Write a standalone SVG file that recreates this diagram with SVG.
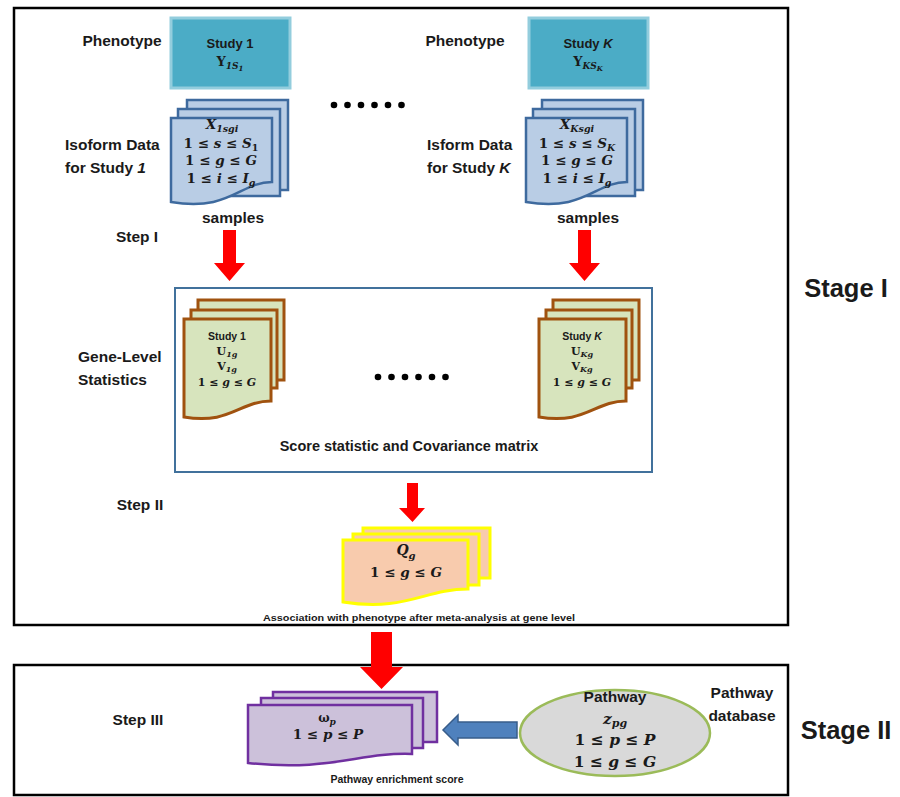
<svg xmlns="http://www.w3.org/2000/svg" width="900" height="797" viewBox="0 0 900 797">
<style>
  .lbl { font-family: "Liberation Sans", Arial, sans-serif; font-weight: bold; fill: #1a1a1a; }
  .m { font-family: "DejaVu Serif", "Liberation Serif", serif; font-weight: bold; fill: #1a1a1a; }
  .i { font-style: italic; }
  .stage { fill: none; stroke: #000; stroke-width: 2.5; }
  .pheno { fill: #4BACC6; stroke: #93CDDD; stroke-width: 3; }
  .iso { fill: #B9CDE5; stroke: #3E6A9E; stroke-width: 2.5; }
  .gene { fill: #D7E4BD; stroke: #A0520F; stroke-width: 3; }
  .qg { fill: #F8CBAD; stroke: #FFFF00; stroke-width: 3; }
  .pw { fill: #CCC1DA; stroke: #7030A0; stroke-width: 2.5; }
  .red { fill: #FF0000; }
  .dot { fill: #000; }
</style>

<!-- stage frames -->
<rect class="stage" x="14" y="8" width="774" height="617"/>
<rect class="stage" x="14" y="665" width="774" height="130"/>
<rect x="175" y="288" width="477" height="184" fill="none" stroke="#41719C" stroke-width="2"/>

<text class="lbl" x="846" y="297" font-size="25.5" text-anchor="middle">Stage I</text>
<text class="lbl" x="846" y="739" font-size="25.5" text-anchor="middle">Stage II</text>

<!-- phenotype -->
<g id="pheno1">
  <text class="lbl" x="122" y="46" font-size="15.5" text-anchor="middle">Phenotype</text>
  <rect class="pheno" x="171" y="18" width="119" height="70"/>
  <text class="lbl" x="230" y="48" font-size="13" text-anchor="middle">Study 1</text>
  <text class="m" x="230" y="66" font-size="13" text-anchor="middle">Y<tspan class="i" font-size="9" dy="3">1S</tspan><tspan class="i" font-size="7" dy="2">1</tspan></text>
</g>
<g id="phenoK">
  <text class="lbl" x="465" y="46" font-size="15.5" text-anchor="middle">Phenotype</text>
  <rect class="pheno" x="529" y="18" width="119" height="70"/>
  <text class="lbl" x="588" y="48" font-size="13" text-anchor="middle">Study <tspan class="i">K</tspan></text>
  <text class="m" x="588" y="66" font-size="13" text-anchor="middle">Y<tspan class="i" font-size="9" dy="3">KS</tspan><tspan class="i" font-size="7" dy="2">K</tspan></text>
</g>

<!-- ellipsis dots -->
<g id="dots-top">
  <circle class="dot" cx="334" cy="105" r="3.3"/><circle class="dot" cx="347.5" cy="105" r="3.3"/><circle class="dot" cx="361" cy="105" r="3.3"/>
  <circle class="dot" cx="374.5" cy="105" r="3.3"/><circle class="dot" cx="388" cy="105" r="3.3"/><circle class="dot" cx="401.5" cy="105" r="3.3"/>
</g>
<g id="dots-mid">
  <circle class="dot" cx="378" cy="377" r="3.3"/><circle class="dot" cx="391.5" cy="377" r="3.3"/><circle class="dot" cx="405" cy="377" r="3.3"/>
  <circle class="dot" cx="418.5" cy="377" r="3.3"/><circle class="dot" cx="432" cy="377" r="3.3"/><circle class="dot" cx="445.5" cy="377" r="3.3"/>
</g>

<!-- isoform data stacks -->
<g id="iso1">
  <text class="lbl" x="65" y="150" font-size="15.5">Isoform Data</text>
  <text class="lbl" x="65" y="173" font-size="15.5">for Study <tspan class="i">1</tspan></text>
  <rect class="iso" x="187" y="100" width="101" height="90"/>
  <rect class="iso" x="178" y="109" width="102" height="87"/>
  <path class="iso" d="M171,118 H272 V182 C240,182 230,212 171,202 Z"/>
  <text class="m" x="222" y="129" font-size="13.5" text-anchor="middle"><tspan class="i">X</tspan><tspan class="i" font-size="9.5" dy="3">1sgi</tspan></text>
  <text class="m" x="221" y="148" font-size="13.5" text-anchor="middle">1 ≤ <tspan class="i">s</tspan> ≤ <tspan class="i">S</tspan><tspan font-size="9.5" dy="3">1</tspan></text>
  <text class="m" x="221" y="165" font-size="13.5" text-anchor="middle">1 ≤ <tspan class="i">g</tspan> ≤ <tspan class="i">G</tspan></text>
  <text class="m" x="221" y="183" font-size="13.5" text-anchor="middle">1 ≤ <tspan class="i">i</tspan> ≤ <tspan class="i">I</tspan><tspan class="i" font-size="9.5" dy="3">g</tspan></text>
  <text class="lbl" x="233" y="223" font-size="15.5" text-anchor="middle">samples</text>
</g>
<g id="isoK">
  <text class="lbl" x="427" y="150" font-size="15.5">Isform Data</text>
  <text class="lbl" x="427" y="173" font-size="15.5">for Study <tspan class="i">K</tspan></text>
  <rect class="iso" x="542" y="100" width="101" height="90"/>
  <rect class="iso" x="533" y="109" width="102" height="87"/>
  <path class="iso" d="M526,118 H627 V182 C595,182 585,212 526,202 Z"/>
  <text class="m" x="577" y="129" font-size="13.5" text-anchor="middle"><tspan class="i">X</tspan><tspan class="i" font-size="9.5" dy="3">Ksgi</tspan></text>
  <text class="m" x="577" y="148" font-size="13.5" text-anchor="middle">1 ≤ <tspan class="i">s</tspan> ≤ <tspan class="i">S</tspan><tspan class="i" font-size="9.5" dy="3">K</tspan></text>
  <text class="m" x="577" y="165" font-size="13.5" text-anchor="middle">1 ≤ <tspan class="i">g</tspan> ≤ <tspan class="i">G</tspan></text>
  <text class="m" x="577" y="183" font-size="13.5" text-anchor="middle">1 ≤ <tspan class="i">i</tspan> ≤ <tspan class="i">I</tspan><tspan class="i" font-size="9.5" dy="3">g</tspan></text>
  <text class="lbl" x="588" y="223" font-size="15.5" text-anchor="middle">samples</text>
</g>

<text class="lbl" x="137" y="242" font-size="15.5" text-anchor="middle">Step I</text>

<!-- gene-level statistics -->
<g id="gene1">
  <text class="lbl" x="78" y="362" font-size="15.5">Gene-Level</text>
  <text class="lbl" x="78" y="385" font-size="15.5">Statistics</text>
  <rect class="gene" x="198" y="300" width="86" height="80"/>
  <rect class="gene" x="191" y="310" width="86" height="78"/>
  <path class="gene" d="M184,319 H271 V401 C240,401 230,425 184,417 Z"/>
  <text class="lbl" x="227" y="340" font-size="10.5" text-anchor="middle">Study 1</text>
  <text class="m" x="227" y="355" font-size="11" text-anchor="middle">U<tspan class="i" font-size="8" dy="2">1g</tspan></text>
  <text class="m" x="227" y="370" font-size="11" text-anchor="middle">V<tspan class="i" font-size="8" dy="2">1g</tspan></text>
  <text class="m" x="227" y="386" font-size="11" text-anchor="middle">1 ≤ <tspan class="i">g</tspan> ≤ <tspan class="i">G</tspan></text>
</g>
<g id="geneK">
  <rect class="gene" x="553" y="300" width="86" height="80"/>
  <rect class="gene" x="546" y="310" width="86" height="78"/>
  <path class="gene" d="M539,319 H626 V401 C595,401 585,425 539,417 Z"/>
  <text class="lbl" x="582" y="340" font-size="10.5" text-anchor="middle">Study <tspan class="i">K</tspan></text>
  <text class="m" x="582" y="355" font-size="11" text-anchor="middle">U<tspan class="i" font-size="8" dy="2">Kg</tspan></text>
  <text class="m" x="582" y="370" font-size="11" text-anchor="middle">V<tspan class="i" font-size="8" dy="2">Kg</tspan></text>
  <text class="m" x="582" y="386" font-size="11" text-anchor="middle">1 ≤ <tspan class="i">g</tspan> ≤ <tspan class="i">G</tspan></text>
</g>
<text class="lbl" x="409" y="451" font-size="14.5" text-anchor="middle">Score statistic and Covariance matrix</text>

<text class="lbl" x="140" y="510" font-size="15.5" text-anchor="middle">Step II</text>

<!-- meta-analysis result -->
<g id="qg">
  <rect class="qg" x="363" y="528" width="127" height="50"/>
  <rect class="qg" x="353" y="534" width="126" height="51"/>
  <path class="qg" d="M343,540 H468 V589 C425,589 405,612 343,602 Z"/>
  <text class="m" x="406" y="555" font-size="14" text-anchor="middle"><tspan class="i">Q</tspan><tspan class="i" font-size="10" dy="4">g</tspan></text>
  <text class="m" x="406" y="577" font-size="13.5" text-anchor="middle">1 ≤ <tspan class="i">g</tspan> ≤ <tspan class="i">G</tspan></text>
</g>
<text class="lbl" x="419" y="621" font-size="9.5" text-anchor="middle" textLength="312" lengthAdjust="spacingAndGlyphs">Association with phenotype after meta-analysis at gene level</text>

<text class="lbl" x="138" y="725" font-size="15.5" text-anchor="middle">Step III</text>

<!-- pathway enrichment -->
<g id="omega">
  <rect class="pw" x="273" y="692" width="164" height="50"/>
  <rect class="pw" x="261" y="698" width="162" height="50"/>
  <path class="pw" d="M248,705 H412 V754 C360,752 330,772 248,763 Z"/>
  <text class="m" x="327" y="722" font-size="12" text-anchor="middle" font-weight="normal">ω<tspan class="i" font-size="9" dy="3" font-weight="bold">p</tspan></text>
  <text class="m" x="328" y="739" font-size="13.5" text-anchor="middle">1 ≤ <tspan class="i">p</tspan> ≤ <tspan class="i">P</tspan></text>
</g>
<text class="lbl" x="397" y="783" font-size="10.5" text-anchor="middle">Pathway enrichment score</text>

<g id="pathway-db">
  <ellipse cx="615" cy="733" rx="95" ry="43" fill="#D9D9D9" stroke="#9BBB59" stroke-width="2.5"/>
  <text class="lbl" x="615" y="702" font-size="15.5" text-anchor="middle">Pathway</text>
  <text class="m" x="615" y="724" font-size="15.5" text-anchor="middle"><tspan class="i">z</tspan><tspan class="i" font-size="11" dy="3">pg</tspan></text>
  <text class="m" x="615" y="745" font-size="15.5" text-anchor="middle">1 ≤ <tspan class="i">p</tspan> ≤ <tspan class="i">P</tspan></text>
  <text class="m" x="615" y="767" font-size="15.5" text-anchor="middle">1 ≤ <tspan class="i">g</tspan> ≤ <tspan class="i">G</tspan></text>
  <text class="lbl" x="742" y="698" font-size="15.5" text-anchor="middle">Pathway</text>
  <text class="lbl" x="742" y="721" font-size="15.5" text-anchor="middle">database</text>
</g>

<!-- connectors -->
<g id="connectors">
  <path class="red" d="M223,230 H236 V263 H245 L229.5,281 L214,263 H223 Z"/>
  <path class="red" d="M578,230 H591 V263 H600 L584.5,281 L569,263 H578 Z"/>
  <path class="red" d="M407,483 H418 V508 H425 L412.5,522 L399,508 H407 Z"/>
  <path class="red" d="M371,632 H392 V667 H403 L381.5,689 L360,667 H371 Z"/>
  <path d="M517,722 H458 V715 L443,730 L458,745 V738 H517 Z" fill="#4F81BD" stroke="#385D8A" stroke-width="1.5"/>
</g>
</svg>
